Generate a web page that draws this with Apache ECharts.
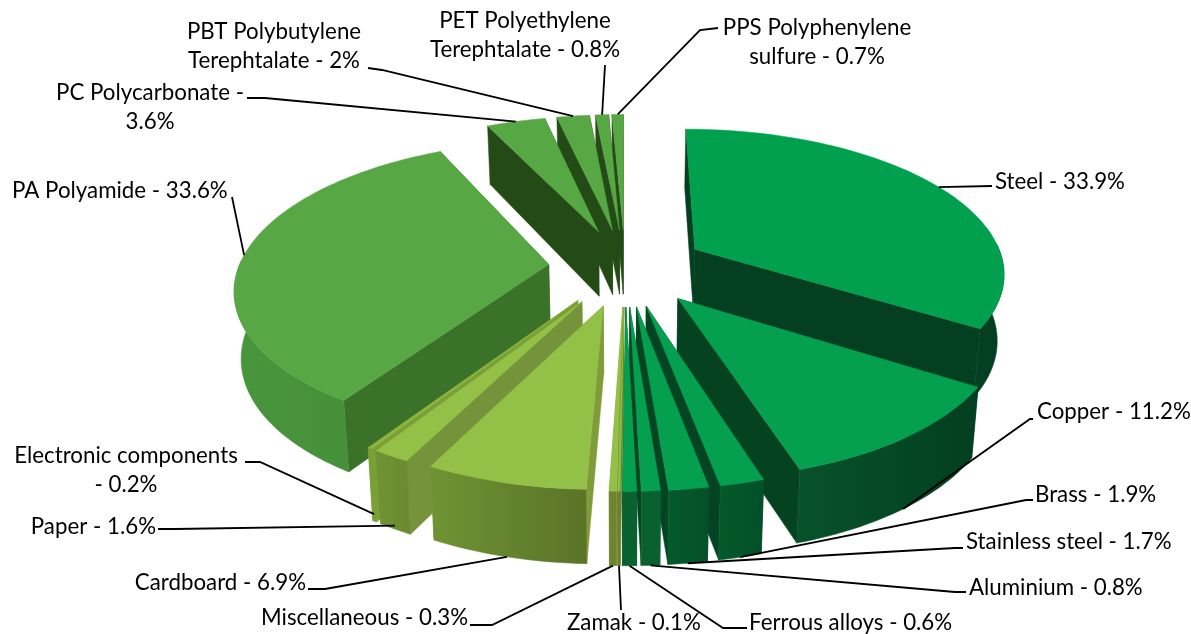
<!DOCTYPE html>
<html>
<head>
<meta charset="utf-8">
<style>
  html, body { margin: 0; padding: 0; background: #fff; }
  #chart { width: 1191px; height: 634px; }
</style>
</head>
<body>
<div id="chart"></div>
<script src="https://cdn.jsdelivr.net/npm/echarts@6/dist/echarts.min.js"></script>
<script>
// slices, clockwise from 12 o'clock
const categories = ['Steel', 'Copper', 'Brass', 'Stainless steel', 'Aluminium', 'Ferrous alloys', 'Zamak', 'Miscellaneous',
  'Cardboard', 'Paper', 'Electronic components', 'PA Polyamide', 'PC Polycarbonate', 'PBT Polybutylene Terephtalate',
  'PET Polyethylene Terephtalate', 'PPS Polyphenylene sulfure']
const shares = [33.9, 11.2, 1.9, 1.7, 0.8, 0.6, 0.1, 0.3, 6.9, 1.6, 0.2, 33.6, 3.6, 2, 0.8, 0.7]
const labelTexts = ['Steel - 33.9%', 'Copper - 11.2%', 'Brass - 1.9%', 'Stainless steel - 1.7%', 'Aluminium - 0.8%',
  'Ferrous alloys - 0.6%', 'Zamak - 0.1%', 'Miscellaneous - 0.3%', 'Cardboard - 6.9%', 'Paper - 1.6%',
  'Electronic components\n- 0.2%', 'PA Polyamide - 33.6%', 'PC Polycarbonate -\n3.6%', 'PBT Polybutylene\nTerephtalate - 2%',
  'PET Polyethylene\nTerephtalate - 0.8%', 'PPS Polyphenylene\nsulfure - 0.7%']

// colours per slice: top face, cut wall, rim left, rim right
const topColors = ['#01a04f', '#05a04f', '#05a04f', '#05a04f', '#05a04f', '#05a04f', '#8fbf45', '#93c047',
  '#93c047', '#93c047', '#8ab53f', '#57a745', '#57a745', '#57a745', '#57a745', '#57a745']
const wallColors = ['#033f20', '#044220', '#034522', '#034522', '#034522', '#034522', '#6a7f2f', '#7f9c38',
  '#7f9c38', '#74933a', '#7a9f36', '#3b7229', '#244a16', '#244a16', '#244a16', '#244a16']
const rimLeft = ['#033f20', '#07522a', '#045a2b', '#045a2b', '#08612f', '#08612f', '#6a7f2f', '#6f8331',
  '#6f9334', '#6f9334', '#7a9f36', '#48963c', '#244a16', '#244a16', '#244a16', '#244a16']
const rimRight = ['#033f20', '#033f20', '#045029', '#045029', '#08612f', '#08612f', '#6a7f2f', '#6f8331',
  '#5a7428', '#6a8b31', '#7a9f36', '#478f3a', '#244a16', '#244a16', '#244a16', '#244a16']

// label centre/edge, alignment, leader elbow, leader start height (0 top face, 1 bottom)
const labelPos = [[995, 182], [1037, 412], [1035, 495], [966, 542], [969, 588], [749, 623], [567, 623], [468, 618],
  [306, 583], [156, 527], [126, 470], [12, 191], [150, 107], [274, 46], [525, 35], [817, 42]]
const labelAlign = ['left', 'left', 'left', 'left', 'left', 'left', 'left', 'right', 'right', 'right', 'center', 'left',
  'center', 'center', 'center', 'center']
const leaderEnds = [[[992, 186]], [[1030, 419], [1033, 419]], [[1026, 500], [1033, 500]], [[955, 548], [963, 548]],
  [[955, 592], [966, 592]], [[723, 628], [747, 628]], [[621, 610]], [[492, 625], [470, 625]], [[325, 589], [308, 589]],
  [[175, 529], [158, 529]], [[260, 462], [245, 462]], [[232, 197]], [[265, 98], [247, 98]], [[382, 70], [368, 68]],
  [[605, 65]], [[700, 30], [718, 28]]]
const leaderLevel = [0, 1, 1, 1, 1, 1, 1, 1, 1, 0.95, 0.9, 0, 0, 0, 0, 0]

// how far each slice is pulled out of the pie
const explodes = [0.262, 0.27, 0.27, 0.27, 0.27, 0.27, 0.27, 0.27, 0.27, 0.27, 0.27, 0.247, 0.27, 0.27, 0.27, 0.27]

// projection of the tilted pie
const cx = 625, cy = 267, radius = 310, tilt = 143, thick = 66, persp = 0.15

const total = shares.reduce((a, b) => a + b, 0)
let acc = 0
const slices = shares.map((v, i) => {
  const a0 = acc / total * Math.PI * 2
  acc += v
  const a1 = acc / total * Math.PI * 2
  return [i, a0, a1]
})
// back to front, so nearer slices cover further ones
const drawOrder = slices.slice().sort((p, q) => Math.cos((q[1] + q[2]) / 2) - Math.cos((p[1] + p[2]) / 2))

function project(x, y, level) {
  const s = 1 / (1 + persp * y)
  let sx = cx + x * radius * s
  let sy = cy - y * tilt * s
  if (level) {
    sy += level * thick * (1 - 0.1 * y)
    sx = cx + (sx - cx) * (1 - 0.018 * level)
  }
  return [sx, sy]
}

function rimPoint(i, a0, a1, a, level) {
  const mid = (a0 + a1) / 2
  return project(explodes[i] * Math.sin(mid) + Math.sin(a), explodes[i] * Math.cos(mid) + Math.cos(a), level)
}

function apexPoint(i, a0, a1, level) {
  const mid = (a0 + a1) / 2
  return project(explodes[i] * Math.sin(mid), explodes[i] * Math.cos(mid), level)
}

function polygon(points, fill) {
  return {
    type: 'polygon',
    shape: { points: points },
    style: { fill: fill, stroke: fill, lineWidth: 0.5 }
  }
}

function renderSlice(params, api) {
  const i = api.value(0), a0 = api.value(1), a1 = api.value(2)
  const steps = Math.max(2, Math.ceil((a1 - a0) / 0.025))
  const topEdge = [], bottomEdge = [], frontTop = [], frontBottom = []
  for (let k = 0; k <= steps; k++) {
    const a = a0 + (a1 - a0) * k / steps
    const t = rimPoint(i, a0, a1, a, 0)
    const b = rimPoint(i, a0, a1, a, 1)
    topEdge.push(t)
    bottomEdge.push(b)
    // only the part of the rim that faces the viewer
    if (Math.cos(a) < 0.05) {
      frontTop.push(t)
      frontBottom.push(b)
    }
  }
  const apexTop = apexPoint(i, a0, a1, 0), apexBottom = apexPoint(i, a0, a1, 1)
  const children = [
    polygon([apexTop, topEdge[0], bottomEdge[0], apexBottom], wallColors[i]),
    polygon([apexTop, topEdge[steps], bottomEdge[steps], apexBottom], wallColors[i])
  ]
  if (frontTop.length > 1) {
    const fill = new echarts.graphic.LinearGradient(0, 0, 1, 0, [
      { offset: 0, color: rimLeft[i] },
      { offset: 1, color: rimRight[i] }
    ])
    children.push(polygon(frontTop.concat(frontBottom.slice().reverse()), fill))
  }
  children.push(polygon([apexTop].concat(topEdge), topColors[i]))
  return { type: 'group', children: children }
}

function renderLabel(params, api) {
  const i = api.value(0), a0 = api.value(1), a1 = api.value(2)
  const start = rimPoint(i, a0, a1, (a0 + a1) / 2, leaderLevel[i])
  return {
    type: 'group',
    children: [
      {
        type: 'polyline',
        shape: { points: [start].concat(leaderEnds[i]) },
        style: { fill: 'none', stroke: '#000', lineWidth: 1.8 }
      },
      {
        type: 'text',
        x: labelPos[i][0],
        y: labelPos[i][1],
        style: {
          text: labelTexts[i],
          fill: '#000',
          font: '22.3px Lato',
          lineHeight: 29,
          align: labelAlign[i],
          verticalAlign: 'middle'
        }
      }
    ]
  }
}

const chart = echarts.init(document.getElementById('chart'))
chart.setOption({
  animation: false,
  backgroundColor: '#fff',
  tooltip: { show: false },
  series: [
    { type: 'custom', coordinateSystem: 'none', silent: true, z: 1, renderItem: renderSlice, data: drawOrder },
    { type: 'custom', coordinateSystem: 'none', silent: true, z: 2, renderItem: renderLabel, data: slices }
  ]
})
</script>
</body>
</html>
